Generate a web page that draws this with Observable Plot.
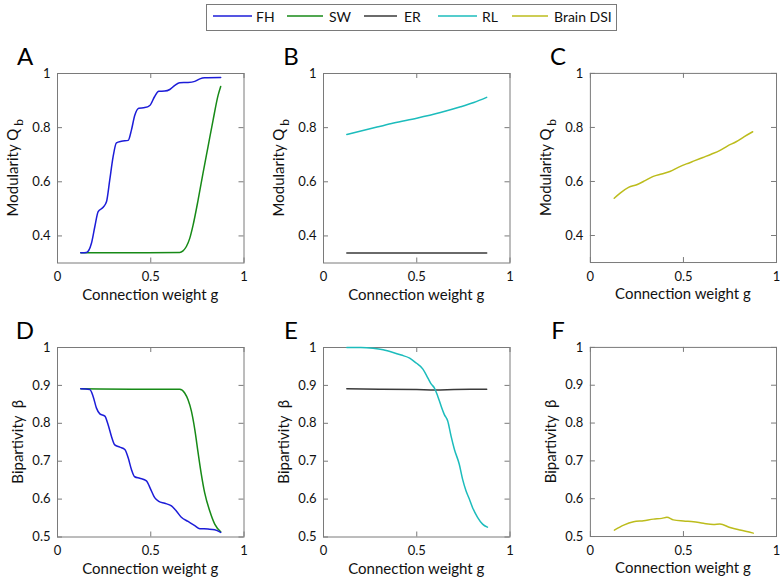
<!DOCTYPE html>
<html><head><meta charset="utf-8">
<script src="https://cdn.jsdelivr.net/npm/d3@7"></script>
<script src="https://cdn.jsdelivr.net/npm/@observablehq/plot@0.6"></script>
<style>
body{margin:0;background:#fff;font-family:Lato,sans-serif;}
#fig{position:relative;width:782px;height:579px;overflow:hidden;background:#fff}
.panel{position:absolute}
#legend{position:absolute;left:0;top:0}
</style></head><body><div id="fig"></div>
<script>
// ---- tick values ----
const xTicks = [0, 0.5, 1];
const qTicks = [0.4, 0.6, 0.8, 1];
const bTicks = [0.5, 0.6, 0.7, 0.8, 0.9, 1];

// ---- legend ----
const seriesNames = ["FH", "SW", "ER", "RL", "Brain DSI"];
const seriesColors = ["#1c1cd8", "#178a17", "#3a3a3a", "#1cbcbc", "#bcbc1c"];

// ---- Panel A: modularity, FH and SW ----
const fhQ_g = [0.125,0.155,0.182,0.2,0.218,0.245,0.263,0.28,0.298,0.316,0.343,0.379,0.396,0.414,0.436,0.468,0.495,0.521,0.543,0.575,0.602,0.629,0.655,0.7,0.736,0.763,0.789,0.875];
const fhQ   = [0.338,0.339,0.373,0.434,0.49,0.506,0.527,0.606,0.692,0.744,0.75,0.753,0.79,0.845,0.872,0.874,0.882,0.915,0.934,0.935,0.941,0.956,0.966,0.967,0.971,0.98,0.984,0.985];
const swQ_g = [0.125,0.4,0.655,0.673,0.691,0.709,0.727,0.754,0.78,0.807,0.834,0.861,0.875];
const swQ   = [0.338,0.338,0.339,0.345,0.361,0.391,0.44,0.533,0.631,0.729,0.827,0.919,0.952];

// ---- Panel B: modularity, ER and RL ----
const erQ_g = [0.125,0.5,0.875];
const erQ   = [0.337,0.337,0.337];
const rlQ_g = [0.125,0.287,0.376,0.5,0.627,0.735,0.806,0.875];
const rlQ   = [0.775,0.802,0.817,0.835,0.856,0.877,0.893,0.912];

// ---- Panel C: modularity, brain DSI ----
const brQ_g = [0.128,0.16,0.205,0.249,0.294,0.338,0.383,0.427,0.472,0.516,0.561,0.605,0.649,0.694,0.738,0.783,0.827,0.872];
const brQ   = [0.538,0.557,0.578,0.588,0.603,0.619,0.628,0.637,0.652,0.665,0.677,0.689,0.701,0.714,0.732,0.747,0.766,0.784];

// ---- Panel D: bipartivity, FH and SW ----
const fhB_g = [0.125,0.173,0.191,0.209,0.227,0.254,0.271,0.289,0.307,0.334,0.361,0.379,0.396,0.414,0.441,0.477,0.495,0.521,0.543,0.575,0.611,0.638,0.664,0.7,0.736,0.763,0.807,0.843,0.875];
const fhB   = [0.891,0.889,0.871,0.84,0.825,0.819,0.797,0.766,0.743,0.737,0.731,0.709,0.679,0.659,0.655,0.648,0.631,0.604,0.594,0.589,0.582,0.568,0.552,0.541,0.53,0.522,0.521,0.519,0.512];
const swB_g = [0.125,0.4,0.655,0.682,0.7,0.718,0.736,0.754,0.771,0.789,0.816,0.843,0.875];
const swB   = [0.891,0.89,0.89,0.88,0.862,0.832,0.784,0.722,0.666,0.617,0.569,0.534,0.514];

// ---- Panel E: bipartivity, ER and RL ----
const erB_g = [0.125,0.3,0.5,0.6,0.7,0.875];
const erB   = [0.891,0.89,0.889,0.888,0.889,0.89];
const rlB_g = [0.125,0.2,0.266,0.32,0.373,0.417,0.462,0.497,0.533,0.56,0.577,0.595,0.613,0.631,0.648,0.666,0.684,0.702,0.728,0.746,0.764,0.782,0.799,0.826,0.853,0.879];
const rlB   = [1.0,1.0,0.998,0.994,0.987,0.98,0.972,0.959,0.943,0.919,0.904,0.893,0.871,0.845,0.823,0.806,0.766,0.731,0.692,0.652,0.622,0.6,0.578,0.552,0.534,0.526];

// ---- Panel F: bipartivity, brain DSI ----
const brB_g = [0.129,0.179,0.232,0.286,0.339,0.384,0.411,0.446,0.5,0.554,0.607,0.661,0.696,0.75,0.804,0.875];
const brB   = [0.517,0.53,0.539,0.542,0.546,0.548,0.551,0.544,0.541,0.539,0.535,0.532,0.533,0.524,0.517,0.509];

const W = 186.5, H = 189.5, ML = 57, MT = 45, MB = 45, MR = 6;
const AX = "#7a7a7a";
const fig = document.getElementById("fig");

function rows(gs, vs) { return gs.map((g, i) => ({g, v: vs[i]})); }

function panel(cfg) {
  const marks = [
    Plot.frame({stroke: AX}),
    Plot.tickY(cfg.yTicks, {y: d => d, insetRight: W - 5, stroke: AX}),
    Plot.tickY(cfg.yTicks, {y: d => d, insetLeft: W - 5, stroke: AX}),
    Plot.tickX(xTicks, {x: d => d, insetTop: H - 5, stroke: AX}),
    Plot.tickX(xTicks, {x: d => d, insetBottom: H - 5, stroke: AX}),
    Plot.axisX({ticks: xTicks, tickSize: 0, tickPadding: 9, tickFormat: d => String(d), label: null}),
    Plot.axisY({ticks: cfg.yTicks, tickSize: 0, tickPadding: 7, tickFormat: d => String(d), label: null}),
    ...cfg.series.map(s => Plot.line(rows(s.g, s.v), {x: "g", y: "v", stroke: s.color, strokeWidth: 1.5, curve: "monotone-x"}))
  ];
  const svg = Plot.plot({
    width: ML + W + MR, height: MT + H + MB,
    marginLeft: ML, marginRight: MR, marginTop: MT, marginBottom: MB,
    x: {domain: [0, 1]}, y: {domain: cfg.yDomain},
    style: {fontFamily: "Lato, sans-serif", fontSize: "13px", color: "#111", background: "transparent", overflow: "visible"},
    marks
  });
  const s = d3.select(svg);
  s.append("text").attr("x", ML + W / 2).attr("y", MT + H + 37)
    .attr("text-anchor", "middle").attr("font-size", 15).attr("fill", "#111")
    .text("Connection weight g");
  const yl = s.append("text")
    .attr("transform", `translate(${ML + cfg.yLabelDx},${MT + H / 2}) rotate(-90)`)
    .attr("text-anchor", "middle").attr("font-size", 15).attr("fill", "#111");
  yl.append("tspan").text(cfg.ylabel);
  if (cfg.sub) yl.append("tspan").attr("dx", 3).attr("dy", 5).attr("font-size", 12).text(cfg.sub);
  s.append("text").attr("x", ML - 32).attr("y", MT - 8).attr("font-size", 24).attr("fill", "#000").text(cfg.letter);
  const div = document.createElement("div");
  div.className = "panel";
  div.style.left = (cfg.L - ML) + "px";
  div.style.top = (cfg.T - MT) + "px";
  div.appendChild(svg);
  fig.appendChild(div);
}

const cols = [57, 322.5, 590];
const rowsT = [73.3, 346.7];
const mk = (g, v, k) => ({g, v, color: seriesColors[k]});

panel({L: cols[0], T: rowsT[0], yDomain: [0.3, 1], yTicks: qTicks, letter: "A", ylabel: "Modularity Q", sub: "b", yLabelDx: -39,
  series: [mk(swQ_g, swQ, 1), mk(fhQ_g, fhQ, 0)]});
panel({L: cols[1], T: rowsT[0], yDomain: [0.3, 1], yTicks: qTicks, letter: "B", ylabel: "Modularity Q", sub: "b", yLabelDx: -39,
  series: [mk(erQ_g, erQ, 2), mk(rlQ_g, rlQ, 3)]});
panel({L: cols[2], T: rowsT[0], yDomain: [0.3, 1], yTicks: qTicks, letter: "C", ylabel: "Modularity Q", sub: "b", yLabelDx: -39,
  series: [mk(brQ_g, brQ, 4)]});
panel({L: cols[0], T: rowsT[1], yDomain: [0.5, 1], yTicks: bTicks, letter: "D", ylabel: "Bipartivity  β", yLabelDx: -34,
  series: [mk(swB_g, swB, 1), mk(fhB_g, fhB, 0)]});
panel({L: cols[1], T: rowsT[1], yDomain: [0.5, 1], yTicks: bTicks, letter: "E", ylabel: "Bipartivity  β", yLabelDx: -34,
  series: [mk(erB_g, erB, 2), mk(rlB_g, rlB, 3)]});
panel({L: cols[2], T: rowsT[1], yDomain: [0.5, 1], yTicks: bTicks, letter: "F", ylabel: "Bipartivity  β", yLabelDx: -34,
  series: [mk(brB_g, brB, 4)]});

// legend
const lineX = [[213, 252], [287, 323], [364, 397], [438, 477], [512, 548]];
const textX = [256, 329, 404, 482, 554];
const lg = d3.create("svg").attr("width", 782).attr("height", 40).attr("id", "legend");
lg.append("rect").attr("x", 206.5).attr("y", 4.5).attr("width", 410).attr("height", 26)
  .attr("fill", "#fff").attr("stroke", AX);
seriesNames.forEach((n, i) => {
  lg.append("line").attr("x1", lineX[i][0]).attr("x2", lineX[i][1]).attr("y1", 16).attr("y2", 16)
    .attr("stroke", seriesColors[i]).attr("stroke-width", 1.5);
  lg.append("text").attr("x", textX[i]).attr("y", 21.5).attr("font-size", 14)
    .attr("font-family", "Lato, sans-serif").attr("fill", "#111").text(n);
});
fig.appendChild(lg.node());
</script></body></html>
